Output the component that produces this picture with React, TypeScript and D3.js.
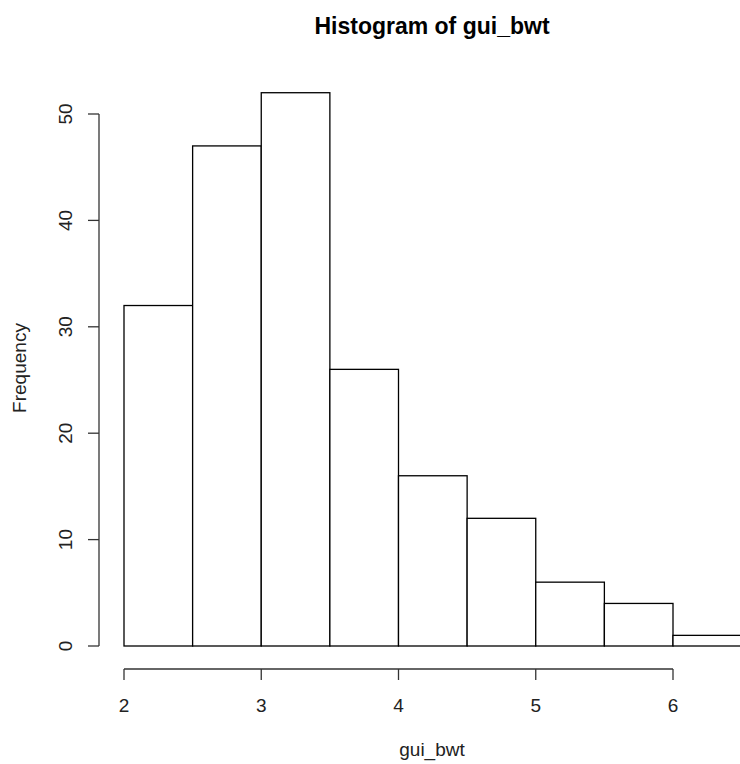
import { useEffect, useRef } from "react";
import * as d3 from "d3";

// histogram of gui_bwt, bins of 0.5
const binStarts = [2, 2.5, 3, 3.5, 4, 4.5, 5, 5.5, 6];
const counts = [32, 47, 52, 26, 16, 12, 6, 4, 1];
const binWidth = 0.5;
const xTicks = [2, 3, 4, 5, 6];
const yTicks = [0, 10, 20, 30, 40, 50];

const W = 740;
const H = 764;

export default function App() {
  const ref = useRef<SVGSVGElement>(null);

  useEffect(() => {
    const svg = d3.select(ref.current);
    svg.selectAll("*").remove();

    const x = d3.scaleLinear().domain([2, 6]).range([124, 673]);
    const y = d3.scaleLinear().domain([0, 50]).range([646, 114]);
    const font = "Liberation Sans, Arial, sans-serif";

    // bars
    svg
      .append("g")
      .selectAll("rect")
      .data(binStarts)
      .enter()
      .append("rect")
      .attr("x", (d) => x(d))
      .attr("y", (d, i) => y(counts[i]))
      .attr("width", (d) => x(d + binWidth) - x(d))
      .attr("height", (d, i) => y(0) - y(counts[i]))
      .attr("fill", "white")
      .attr("stroke", "#000")
      .attr("stroke-width", 1.3);

    // x axis
    const xa = svg.append("g").attr("stroke", "#333").attr("stroke-width", 1.3);
    xa.append("line")
      .attr("x1", x(2)).attr("x2", x(6))
      .attr("y1", 669).attr("y2", 669);
    xa.selectAll("line.t")
      .data(xTicks)
      .enter()
      .append("line")
      .attr("class", "t")
      .attr("x1", (d) => x(d)).attr("x2", (d) => x(d))
      .attr("y1", 669).attr("y2", 680);
    svg
      .append("g")
      .selectAll("text")
      .data(xTicks)
      .enter()
      .append("text")
      .attr("x", (d) => x(d))
      .attr("y", 712)
      .attr("text-anchor", "middle")
      .attr("font-family", font)
      .attr("font-size", 19)
      .attr("fill", "#222")
      .text((d) => d);

    // y axis
    const ya = svg.append("g").attr("stroke", "#333").attr("stroke-width", 1.3);
    ya.append("line")
      .attr("x1", 99).attr("x2", 99)
      .attr("y1", y(0)).attr("y2", y(50));
    ya.selectAll("line.t")
      .data(yTicks)
      .enter()
      .append("line")
      .attr("class", "t")
      .attr("x1", 88).attr("x2", 99)
      .attr("y1", (d) => y(d)).attr("y2", (d) => y(d));
    svg
      .append("g")
      .selectAll("text")
      .data(yTicks)
      .enter()
      .append("text")
      .attr("transform", (d) => `translate(72,${y(d)}) rotate(-90)`)
      .attr("text-anchor", "middle")
      .attr("font-family", font)
      .attr("font-size", 19)
      .attr("fill", "#222")
      .text((d) => d);

    // titles
    svg
      .append("text")
      .attr("x", 432)
      .attr("y", 34)
      .attr("text-anchor", "middle")
      .attr("font-family", font)
      .attr("font-weight", "bold")
      .attr("font-size", 23)
      .attr("fill", "#000")
      .text("Histogram of gui_bwt");
    svg
      .append("text")
      .attr("x", 432)
      .attr("y", 756)
      .attr("text-anchor", "middle")
      .attr("font-family", font)
      .attr("font-size", 19)
      .attr("fill", "#222")
      .text("gui_bwt");
    svg
      .append("text")
      .attr("transform", `translate(26,368) rotate(-90)`)
      .attr("text-anchor", "middle")
      .attr("font-family", font)
      .attr("font-size", 19)
      .attr("fill", "#222")
      .text("Frequency");
  }, []);

  return (
    <svg
      ref={ref}
      width={W}
      height={H}
      style={{ position: "absolute", left: 0, top: 0, background: "white" }}
    />
  );
}
